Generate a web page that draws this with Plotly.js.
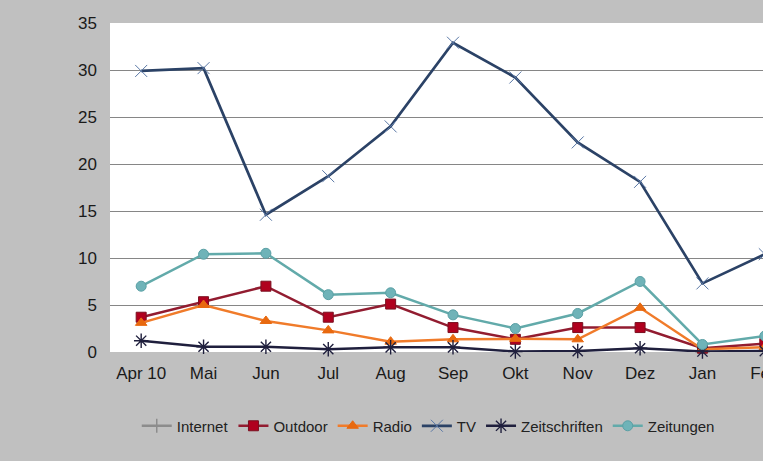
<!DOCTYPE html>
<html>
<head>
<meta charset="utf-8">
<script src="https://cdn.plot.ly/plotly-3.0.1.min.js"></script>
<style>
html,body{margin:0;padding:0;overflow:hidden;background:#c0c0c0;}
#chart{width:860px;height:461px;}
</style>
</head>
<body>
<div id="chart"></div>
<script>
const months = ["Apr 10","Mai","Jun","Jul","Aug","Sep","Okt","Nov","Dez","Jan","Feb"];
const internet = [null,null,null,null,null,null,null,null,null,null,null];
const outdoor = [3.7,5.35,7.0,3.7,5.1,2.6,1.35,2.6,2.6,0.4,0.9];
const radio = [3.1,5.0,3.3,2.3,1.1,1.35,1.4,1.35,4.7,0.3,0.5];
const tv = [29.9,30.2,14.6,18.7,24.0,32.9,29.2,22.3,18.1,7.3,10.4];
const zeitschriften = [1.2,0.56,0.56,0.3,0.5,0.5,0.05,0.1,0.4,0.05,0.1];
const zeitungen = [7.0,10.4,10.5,6.1,6.3,3.95,2.5,4.1,7.5,0.8,1.7];
const yTicks = [0,5,10,15,20,25,30,35];

const W = 860;
const plotLeft = 110, plotRight = 796, plotTop = 23, plotBottom = 352;

function tr(name, y, lineColor, lineW, marker){
  return {type:'scatter', mode:'lines+markers', name:name, x:months, y:y,
    line:{color:lineColor, width:lineW}, marker:marker, cliponaxis:false};
}

const data = [
  tr('Internet', internet, '#8c8c8c', 2.5, {symbol:'cross-thin', size:10, color:'#8c8c8c', line:{color:'#8c8c8c', width:1.5}}),
  tr('Outdoor', outdoor, '#921c30', 2.5, {symbol:'square', size:10, color:'#b0001e', line:{color:'#7a1020', width:1}}),
  tr('Radio', radio, '#f07b2a', 2.5, {symbol:'triangle-up', size:10, color:'#e8690f', line:{color:'#e8690f', width:1}}),
  tr('TV', tv, '#2b4266', 2.7, {symbol:'x-thin', size:12, color:'#5a78a6', line:{color:'#5a78a6', width:1}}),
  tr('Zeitschriften', zeitschriften, '#1f1f3d', 2.5, {symbol:'asterisk', size:12, color:'#1f1f3d', line:{color:'#1f1f3d', width:1.4}}),
  tr('Zeitungen', zeitungen, '#62aaaa', 2.5, {symbol:'circle', size:10, color:'#6fb3b8', line:{color:'#5aa0a5', width:1}})
];

const layout = {
  width: W, height: 461,
  paper_bgcolor:'#c0c0c0', plot_bgcolor:'#ffffff',
  margin:{l:plotLeft, r:W-plotRight, t:plotTop, b:461-plotBottom, pad:0},
  font:{family:'"Liberation Sans", Arial, sans-serif', size:17, color:'#1a1a1a'},
  showlegend:true,
  xaxis:{type:'category', categoryorder:'array', categoryarray:months, range:[-0.5,10.5],
    showgrid:false, zeroline:false, showline:false, ticks:'', ticklabelstandoff:9,
    tickfont:{size:17, color:'#1a1a1a'}, fixedrange:true},
  yaxis:{range:[0,35], tickvals:yTicks, ticktext:yTicks.map(String), showgrid:true, gridcolor:'#868686', gridwidth:1,
    zeroline:false, showline:false, ticks:'', ticklabelstandoff:12,
    tickfont:{size:17, color:'#1a1a1a'}, fixedrange:true},
  legend:{orientation:'h', x:0.039, xanchor:'left', y:-0.225, yanchor:'middle',
    bgcolor:'rgba(0,0,0,0)', itemwidth:30,
    font:{family:'"Liberation Sans", Arial, sans-serif', size:15, color:'#222222'}}
};

Plotly.newPlot('chart', data, layout, {displayModeBar:false, staticPlot:true});
</script>
</body>
</html>
